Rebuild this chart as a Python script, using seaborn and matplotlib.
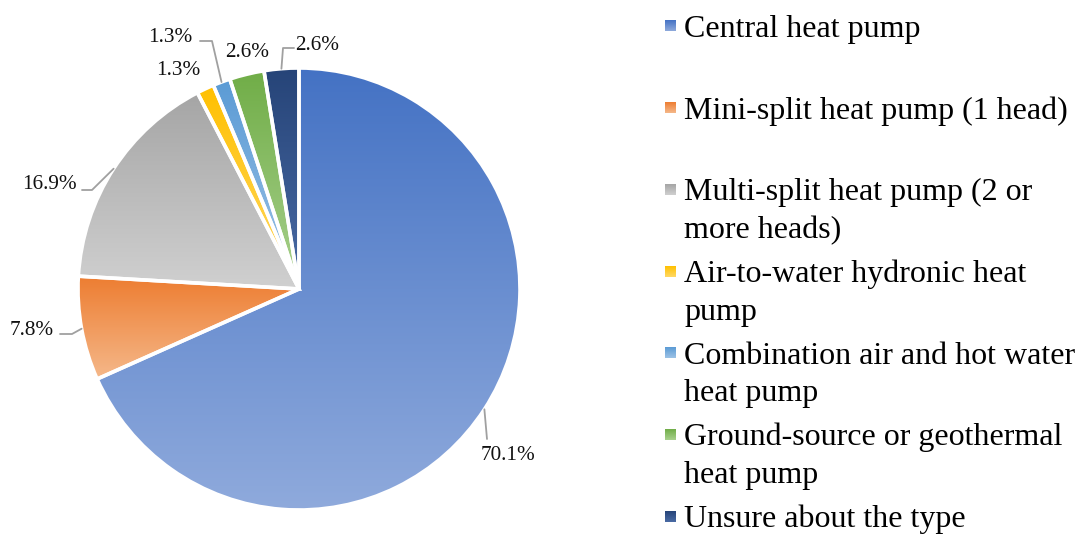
import numpy as np
import matplotlib.pyplot as plt
import matplotlib.colors as mcolors
import seaborn as sns

# data
categories = ["Central heat pump",
              "Mini-split heat pump (1 head)",
              "Multi-split heat pump (2 or\nmore heads)",
              "Air-to-water hydronic heat\npump",
              "Combination air and hot water\nheat pump",
              "Ground-source or geothermal\nheat pump",
              "Unsure about the type"]
shares = [70.1, 7.8, 16.9, 1.3, 1.3, 2.6, 2.6]
pct_labels = ["70.1%", "7.8%", "16.9%", "1.3%", "1.3%", "2.6%", "2.6%"]

# gradient colours (top -> bottom)
top_colors = ["#4472C4", "#ED7D31", "#A5A5A5", "#FFC000", "#5B9BD5", "#70AD47", "#264478"]
bottom_colors = ["#8FAADC", "#F5B88A", "#D0D0D0", "#FFD966", "#9DC3E6", "#A9D18E", "#4A6BA5"]

sns.set_theme(style="white")
plt.rcParams['font.family'] = ['Liberation Serif', 'DejaVu Serif']

W, H = 1085, 535
fig = plt.figure(figsize=(W / 100, H / 100), dpi=100)
ax = fig.add_axes([0, 0, 1, 1])

def Y(y):
    return H - y

cx, cy, R = 299, 289, 221
wedges, _ = ax.pie(shares, center=(cx, Y(cy)), radius=R, startangle=90, counterclock=False,
                   wedgeprops=dict(edgecolor='white', linewidth=2.6))

g = np.linspace(0, 1, 256)[:, None, None]
for w, c0, c1 in zip(wedges, top_colors, bottom_colors):
    a = np.array(mcolors.to_rgb(c0))
    b = np.array(mcolors.to_rgb(c1))
    img = a * (1 - g) + b * g
    ext = w.get_path().get_extents()
    im = ax.imshow(img, extent=(ext.x0, ext.x1, ext.y0, ext.y1), origin='upper',
                   aspect='auto', interpolation='bilinear', zorder=1)
    im.set_clip_path(w)
    w.set_facecolor('none')
    w.set_zorder(2)

# percent labels (center x, baseline y in pixels)
label_pos = [(508, 460), (32, 335), (49, 189), (178, 75), (170, 42), (247, 57), (317, 50)]
for txt, (lx, ly) in zip(pct_labels, label_pos):
    ax.text(lx, Y(ly), txt, ha='center', va='baseline', fontsize=15.3, color='#111111', zorder=4)

# leader lines: from slice edge through elbow to label
leaders = {0: [(487, 439)],
           1: [(72, 334), (60, 334)],
           2: [(92, 190), (82, 190)],
           4: [(212, 41), (200, 41)],
           6: [(283, 48), (294, 48)]}
for i, pts in leaders.items():
    w = wedges[i]
    mid = np.deg2rad((w.theta1 + w.theta2) / 2)
    xs = [cx + R * np.cos(mid)] + [p[0] for p in pts]
    ys = [Y(cy) + R * np.sin(mid)] + [Y(p[1]) for p in pts]
    ax.plot(xs, ys, color='#A0A0A0', lw=1.3, zorder=3)

# legend
base0, step, line_gap = 37, 81.7, 37.5
for i, (name, c0, c1) in enumerate(zip(categories, top_colors, bottom_colors)):
    by = base0 + i * step
    a = np.array(mcolors.to_rgb(c0))
    b = np.array(mcolors.to_rgb(c1))
    img = a * (1 - g) + b * g
    ax.imshow(img, extent=(664.5, 675.5, Y(by - 5.5), Y(by - 16.5)), origin='upper',
              aspect='auto', interpolation='bilinear', zorder=2)
    for k, line in enumerate(name.split("\n")):
        ax.text(684, Y(by + k * line_gap), line, ha='left', va='baseline',
                fontsize=23, color='black')

ax.set_xlim(0, W)
ax.set_ylim(0, H)
ax.set_aspect('auto')
ax.axis('off')

fig.savefig('out.png', dpi=100)
